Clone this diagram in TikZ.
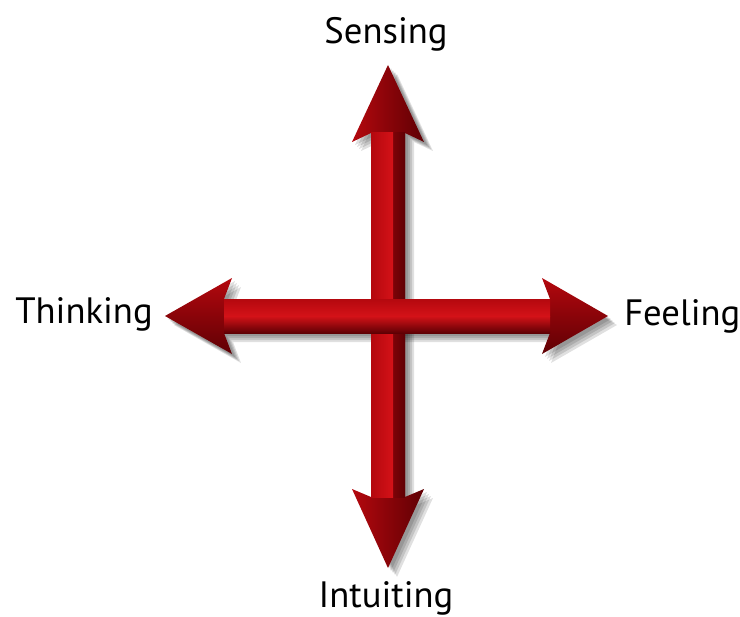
\documentclass[tikz,border=0pt]{standalone}
\usepackage{fontspec}
\setmainfont{PT Sans}
\definecolor{redlight}{RGB}{212,18,24}
\definecolor{redmid}{RGB}{180,8,14}
\definecolor{reddark}{RGB}{95,0,4}
\tikzset{
  vshape/.style={insert path={(388,65) -- (424,142) -- (405,133) -- (405,497) -- (424,489) -- (388,568) -- (352,489) -- (371,497) -- (371,133) -- (352,142) -- cycle}},
  hshape/.style={insert path={(165,316) -- (232,278) -- (224,299) -- (550,299) -- (542,278) -- (608,316) -- (542,354) -- (550,333) -- (224,333) -- (232,354) -- cycle}},
  shadowfill/.style={fill=black, fill opacity=0.12},
  label/.style={inner sep=0pt, font=\fontsize{27.5}{30}\selectfont, text=black}
}
\begin{document}
\begin{tikzpicture}[x=0.75pt,y=-0.75pt]
\useasboundingbox (0,0) rectangle (740,617);
\fill[white] (0,0) rectangle (740,617);
% soft shadows
\foreach \d in {3,5,7,9} {
  \begin{scope}[shift={(\d,\d)}]
    \path[shadowfill, vshape];
    \path[shadowfill, hshape];
  \end{scope}
}
% vertical arrow
\path[vshape, left color=redmid, middle color=redlight, right color=reddark, shading angle=90];
\shade[left color=redmid, right color=reddark] (371,133) rectangle (405,497);
\shade[left color=redmid, right color=redlight] (371,133) rectangle (393,497);
% horizontal arrow
\path[hshape, top color=redmid, middle color=redlight, bottom color=reddark];
\shade[top color=redlight, bottom color=reddark] (224,316) rectangle (550,333);
\shade[top color=redmid, bottom color=redlight] (224,299) rectangle (550,316);
% labels
\node[label, anchor=base] (sensing) at (386,44) {Sensing};
\node[label, anchor=base east] (thinking) at (153,323) {Thinking};
\node[label, anchor=base west] (feeling) at (624,325) {Feeling};
\node[label, anchor=base] (intuiting) at (386,607) {Intuiting};
\end{tikzpicture}
\end{document}
